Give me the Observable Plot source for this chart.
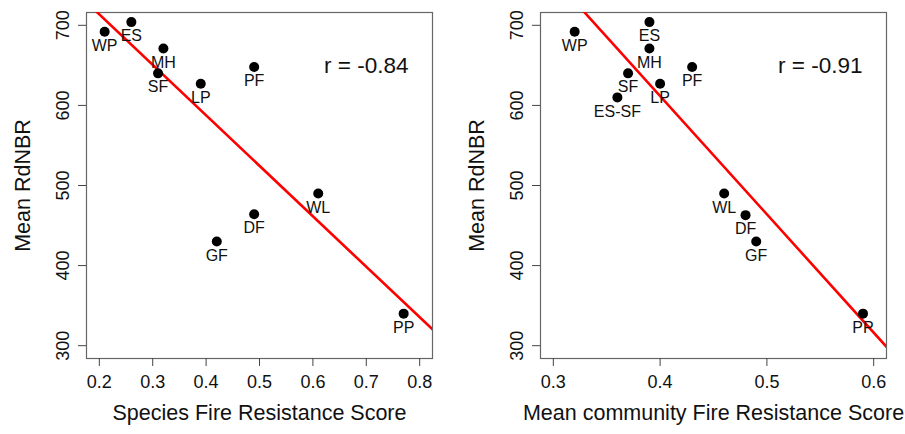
<!DOCTYPE html>
<html>
<head>
<meta charset="utf-8">
<script src="https://cdn.jsdelivr.net/npm/d3@7"></script>
<script src="https://cdn.jsdelivr.net/npm/@observablehq/plot@0.6"></script>
<style>
  html, body { margin: 0; padding: 0; background: #fff; }
  #wrap { display: flex; width: 905px; height: 434px; }
  svg { font-family: "Liberation Sans", Arial, sans-serif; }
</style>
</head>
<body>
<div id="wrap"></div>
<script>
// Left panel: species fire resistance score
const speciesLabels = ["WP", "ES", "MH", "SF", "LP", "PF", "WL", "DF", "GF", "PP"];
const speciesScore  = [0.21, 0.26, 0.32, 0.31, 0.39, 0.49, 0.61, 0.49, 0.42, 0.77];
const speciesRdNBR  = [692, 704, 671, 640, 627, 648, 490, 464, 430, 340];
const speciesR = "r = -0.84";

// Right panel: mean community fire resistance score
const communityLabels = ["WP", "ES", "MH", "SF", "ES-SF", "LP", "PF", "WL", "DF", "GF", "PP"];
const communityScore  = [0.32, 0.39, 0.39, 0.37, 0.36, 0.40, 0.43, 0.46, 0.48, 0.49, 0.59];
const communityRdNBR  = [692, 704, 671, 640, 610, 627, 648, 490, 463, 430, 340];
const communityR = "r = -0.91";

const yTicks = [300, 400, 500, 600, 700];
const xTicksLeft = [0.2, 0.3, 0.4, 0.5, 0.6, 0.7, 0.8];
const xTicksRight = [0.3, 0.4, 0.5, 0.6];

function rExtend(lo, hi) { const d = (hi - lo) * 0.04; return [lo - d, hi + d]; }

function panel({labels, xs, ys, rText, rPos, xlim, xTicks, xLabel, width, marginLeft, marginRight}) {
  const data = labels.map((l, i) => ({label: l, x: xs[i], y: ys[i]}));
  const mx = d3.mean(xs), my = d3.mean(ys);
  const sxy = d3.sum(xs, (x, i) => (x - mx) * (ys[i] - my));
  const sxx = d3.sum(xs, x => (x - mx) ** 2);
  const b = sxy / sxx, a = my - b * mx;
  const xDomain = rExtend(...xlim);
  const yDomain = rExtend(300, 700);
  const fit = xDomain.map(x => ({x, y: a + b * x}));
  return Plot.plot({
    width, height: 434,
    marginLeft, marginRight, marginTop: 12, marginBottom: 76,
    style: {fontFamily: '"Liberation Sans", Arial, sans-serif', background: "#fff", color: "#111"},
    x: {domain: xDomain},
    y: {domain: yDomain},
    marks: [
      Plot.frame({stroke: "#666", strokeWidth: 1.2}),
      Plot.axisX({ticks: xTicks, tickSize: 8, tickPadding: 9, fontSize: 18, stroke: "#444",
        tickFormat: d => d.toFixed(1), label: xLabel, labelAnchor: "center", labelArrow: "none", labelOffset: 61}),
      Plot.axisY({ticks: yTicks, tickSize: 8, tickRotate: -90, tickPadding: 10, fontSize: 18, stroke: "#444",
        tickFormat: d => String(d), label: "Mean RdNBR", labelAnchor: "center", labelArrow: "none", labelOffset: 72}),
      Plot.line(fit, {x: "x", y: "y", stroke: "#ff0000", strokeWidth: 2.6, clip: true}),
      Plot.dot(data, {x: "x", y: "y", r: 5, fill: "#000"}),
      Plot.text(data, {x: "x", y: "y", text: "label", dy: 14, fontSize: 16, fill: "#111"}),
      Plot.text([rText], {x: rPos[0], y: rPos[1], text: d => d, fontSize: 22.5, fill: "#111"})
    ]
  });
}

const wrap = document.getElementById("wrap");
const left = panel({labels: speciesLabels, xs: speciesScore, ys: speciesRdNBR, rText: speciesR, rPos: [0.7, 650],
  xlim: [0.2, 0.8], xTicks: xTicksLeft, xLabel: "Species Fire Resistance Score", width: 452, marginLeft: 86, marginRight: 20});
const right = panel({labels: communityLabels, xs: communityScore, ys: communityRdNBR, rText: communityR, rPos: [0.55, 650],
  xlim: [0.3, 0.6], xTicks: xTicksRight, xLabel: "Mean community Fire Resistance Score", width: 453, marginLeft: 88, marginRight: 19});
wrap.append(left, right);
// axis label font size
for (const svg of [left, right]) {
  svg.querySelectorAll('g[aria-label="x-axis label"] text, g[aria-label="y-axis label"] text').forEach(t => t.setAttribute("font-size", 21.5));
}
</script>
</body>
</html>
